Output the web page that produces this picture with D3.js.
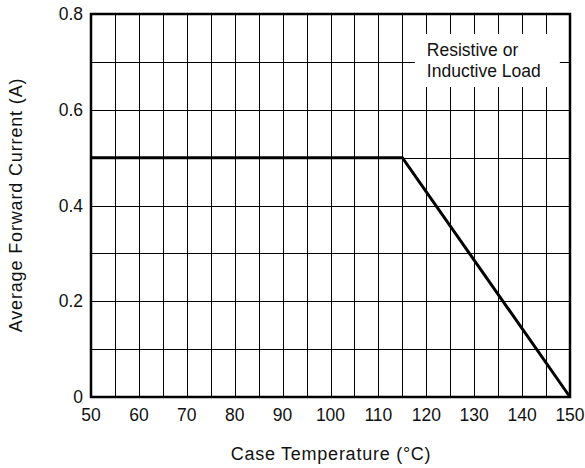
<!DOCTYPE html>
<html><head><meta charset="utf-8">
<script src="https://cdn.jsdelivr.net/npm/d3@7"></script>
<style>body{margin:0;background:#fff}svg{display:block}text{font-family:"Liberation Sans",Arial,sans-serif;fill:#111}</style>
</head><body>
<svg id="c" width="585" height="468"></svg>
<script>
const xTicks = [50,60,70,80,90,100,110,120,130,140,150];
const yTicks = [0,0.2,0.4,0.6,0.8];
const yTickLabels = ["0","0.2","0.4","0.6","0.8"];
const xGrid = [55,60,65,70,75,80,85,90,95,100,105,110,115,120,125,130,135,140,145];
const yGrid = [0.1,0.2,0.3,0.4,0.5,0.6,0.7];
const temp = [50,115,150];
const current = [0.5,0.5,0];
const noteLines = ["Resistive or","Inductive Load"];

const svg = d3.select("#c");
const x = d3.scaleLinear().domain([50,150]).range([91,570]);
const y = d3.scaleLinear().domain([0,0.8]).range([397,14]);

const g = svg.append("g");
g.selectAll("line.vx").data(xGrid).enter().append("line")
  .attr("x1",d=>Math.round(x(d))+0.5).attr("x2",d=>Math.round(x(d))+0.5)
  .attr("y1",y(0.8)).attr("y2",y(0)).attr("stroke","#000").attr("stroke-width",1);
g.selectAll("line.hy").data(yGrid).enter().append("line")
  .attr("y1",d=>Math.round(y(d))+0.5).attr("y2",d=>Math.round(y(d))+0.5)
  .attr("x1",x(50)).attr("x2",x(150)).attr("stroke","#000").attr("stroke-width",1);

// annotation box
svg.append("rect").attr("x",x(115)+12.5).attr("y",y(0.8)+20).attr("width",145).attr("height",53).attr("fill","#fff");
svg.append("g").selectAll("text").data(noteLines).enter().append("text")
  .attr("x",x(115)+24.5).attr("y",(d,i)=>y(0.8)+42+i*21)
  .style("font-size","17.5px").text(d=>d);

// data line
svg.append("path").datum(temp.map((t,i)=>[t,current[i]]))
  .attr("d",d3.line().x(d=>x(d[0])).y(d=>y(d[1])))
  .attr("fill","none").attr("stroke","#000").attr("stroke-width",3).attr("stroke-linejoin","miter");

// frame
svg.append("rect").attr("x",x(50)).attr("y",y(0.8)).attr("width",x(150)-x(50)).attr("height",y(0)-y(0.8))
  .attr("fill","none").attr("stroke","#000").attr("stroke-width",2.5);

// axes labels
svg.append("g").selectAll("text").data(xTicks).enter().append("text")
  .attr("x",d=>x(d)).attr("y",421).attr("text-anchor","middle").style("font-size","17.5px").text(d=>d);
svg.append("g").selectAll("text").data(yTicks).enter().append("text")
  .attr("x",83).attr("y",d=>y(d)+6).attr("text-anchor","end").style("font-size","17.5px").text((d,i)=>yTickLabels[i]);

svg.append("text").attr("x",331).attr("y",460).attr("text-anchor","middle")
  .style("font-size","18px").style("letter-spacing","0.75px").text("Case Temperature (°C)");
svg.append("text").attr("transform","translate(22,205) rotate(-90)").attr("text-anchor","middle")
  .style("font-size","18px").style("letter-spacing","0.85px").text("Average Forward Current (A)");
</script>
</body></html>
